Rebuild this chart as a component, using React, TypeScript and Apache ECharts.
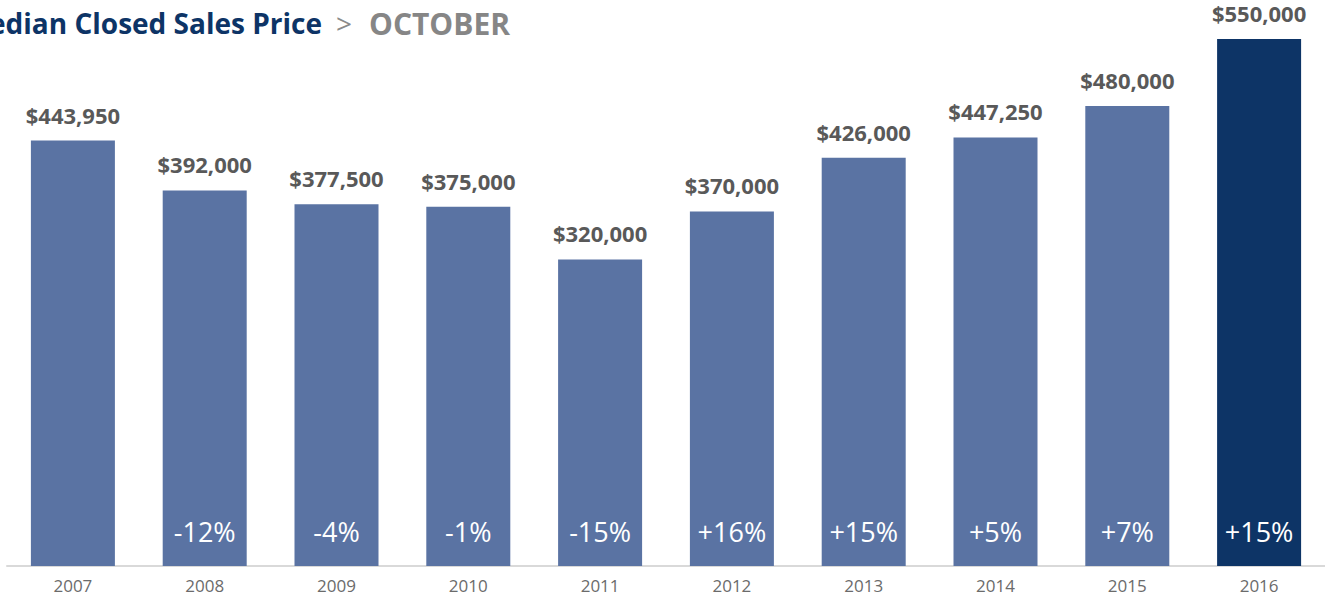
import React, { useEffect, useRef } from "react";
import * as echarts from "echarts";

const years = ["2007", "2008", "2009", "2010", "2011", "2012", "2013", "2014", "2015", "2016"];
const prices = [443950, 392000, 377500, 375000, 320000, 370000, 426000, 447250, 480000, 550000];
const changes = ["", "-12%", "-4%", "-1%", "-15%", "+16%", "+15%", "+5%", "+7%", "+15%"];
const highlightIndex = 9;

const FONT = "'Open Sans', 'Noto Sans', sans-serif";

export default function App() {
  const ref = useRef<HTMLDivElement>(null);
  useEffect(() => {
    document.body.style.margin = "0";
    const chart = echarts.init(ref.current!, null, { renderer: "svg" });
    chart.setOption({
      animation: false,
      backgroundColor: "#ffffff",
      grid: { left: 7, right: -2, top: 39, bottom: 35, containLabel: false },
      xAxis: {
        type: "category",
        data: years,
        axisLine: { show: true, lineStyle: { color: "#d9d9d9", width: 2 } },
        axisTick: { show: false },
        axisLabel: { color: "#6b6b6b", fontSize: 17, fontFamily: FONT, margin: 11 },
      },
      yAxis: {
        type: "value",
        min: 0,
        max: 550000,
        show: false,
        splitLine: { show: false },
      },
      series: [
        {
          type: "bar",
          barWidth: 84,
          data: prices.map((v, i) => ({
            value: v,
            itemStyle: { color: i === highlightIndex ? "#0d3466" : "#5a73a3" },
          })),
          label: {
            show: true,
            position: "top",
            distance: 15,
            color: "#595959",
            fontSize: 22,
            lineHeight: 22,
            fontWeight: "bold",
            fontFamily: FONT,
            formatter: (p: any) => "$" + Number(p.value).toLocaleString("en-US"),
          },
        },
        {
          type: "bar",
          barWidth: 84,
          barGap: "-100%",
          silent: true,
          data: prices.map((v) => ({ value: v, itemStyle: { color: "rgba(0,0,0,0)" } })),
          label: {
            show: true,
            position: "insideBottom",
            distance: 21,
            color: "#ffffff",
            fontSize: 27,
            fontFamily: FONT,
            formatter: (p: any) => changes[p.dataIndex],
          },
          z: 3,
        },
      ],
      graphic: [
        {
          type: "text",
          x: 322,
          y: 23,
          style: {
            text: "Median Closed Sales Price",
            fill: "#0d3466",
            font: "bold 28px " + FONT,
            textAlign: "right",
            textVerticalAlign: "middle",
          },
        },
        {
          type: "text",
          x: 336,
          y: 23,
          style: {
            text: ">",
            fill: "#8a8a8a",
            font: "28px " + FONT,
            textVerticalAlign: "middle",
          },
        },
        {
          type: "text",
          x: 369,
          y: 23,
          style: {
            text: "OCTOBER",
            fill: "#868686",
            font: "bold 30px " + FONT,
            textVerticalAlign: "middle",
          },
        },
      ],
    });
    return () => chart.dispose();
  }, []);
  return <div ref={ref} style={{ width: 1325, height: 601 }} />;
}
